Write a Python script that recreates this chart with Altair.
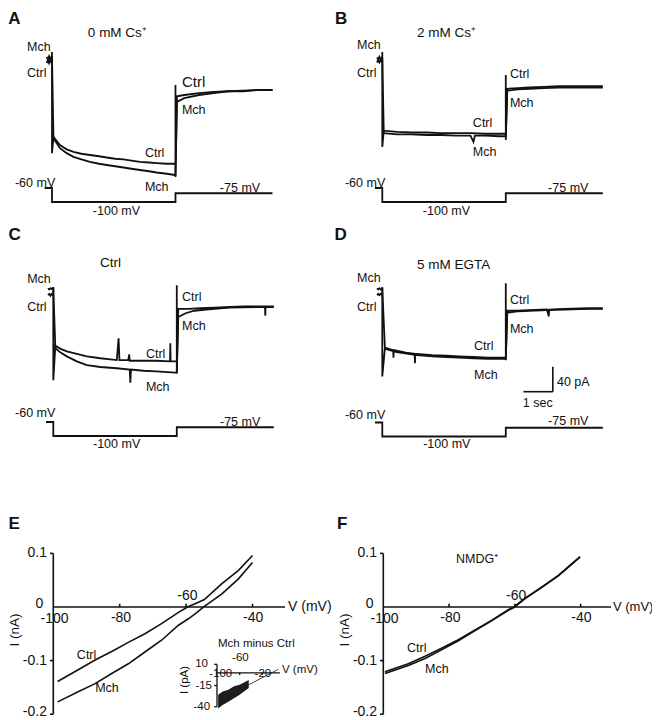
import altair as alt
import pandas as pd

FONT = "Liberation Sans"
INK = "#111111"
M = 8              # page margin
PX_PER_S = 29.4    # time calibration (1 sec bar)
PX_PER_PA = 0.625  # current calibration (40 pA bar)

# ---------------- voltage protocol (s, mV) ----------------
PROT_T = [-0.25, 0, 0, 4.2, 4.2, 7.5]
PROT_V = [-60, -60, -100, -100, -75, -75]

# ---------------- Panel A: 0 mM Cs+ (s, pA) ----------------
A_CTRL_T = [-0.18, -0.14, -0.10, -0.06, -0.02, 0, 0, 0, 0.05, 0.27, 0.5, 0.73, 1.0, 1.29, 1.6, 1.86, 2.15,
            2.43, 2.7, 2.99, 3.3, 3.56, 3.9, 4.18, 4.2, 4.2, 4.2, 4.25, 4.5, 5.0, 5.5, 6.0, 6.5, 7.0, 7.5]
A_CTRL_I = [-5, 0, -5, 0, -4, -3, 13, -149, -123, -136, -143, -147, -150, -152, -154, -156, -158,
            -159, -161, -163, -164, -165, -166, -166, -166, -40, -187, -58, -56, -53, -51, -50, -49, -48, -48]
A_MCH_T = [-0.18, -0.14, -0.10, -0.06, -0.02, 0, 0.05, 0.27, 0.5, 0.73, 1.0, 1.29, 1.6, 1.86, 2.15, 2.43,
           2.7, 2.99, 3.3, 3.56, 3.9, 4.18, 4.2, 4.25, 4.5, 5.0, 5.5, 6.0, 6.5, 7.0, 7.5]
A_MCH_I = [5, 1, 6, 1, 5, 3, -125, -141, -149, -155, -159, -163, -166, -168, -170, -172,
           -174, -176, -178, -180, -182, -184, -184, -67, -61, -56, -53, -50, -50, -48, -48]

# ---------------- Panel B: 2 mM Cs+ ----------------
B_CTRL_T = [-0.18, -0.14, -0.10, -0.06, -0.02, 0, 0, 0, 0.05, 0.5, 1.0, 1.5, 2.0, 2.5, 3.0, 3.5, 4.0, 4.18,
            4.2, 4.2, 4.2, 4.25, 4.6, 5.0, 5.5, 6.0, 6.5, 7.0, 7.5]
B_CTRL_I = [-4, 0, -4, 0, -3, -2, 13, -139, -113, -115, -116, -116, -117, -117, -117, -118, -118, -118,
            -118, -24, -128, -46, -45, -44, -43, -42, -42, -42, -42]
B_MCH_T = [-0.18, -0.14, -0.10, -0.06, -0.02, 0, 0.05, 0.5, 1.0, 1.5, 2.0, 2.5, 3.0, 3.1, 3.15, 3.5, 4.0,
           4.18, 4.2, 4.25, 4.6, 5.0, 5.5, 6.0, 6.5, 7.0, 7.5]
B_MCH_I = [4, 1, 5, 1, 4, 3, -117, -119, -119, -120, -120, -121, -121, -131, -121, -121, -122,
           -122, -122, -49, -47, -46, -45, -44, -44, -44, -44]

# ---------------- Panel C: Ctrl ----------------
C_CTRL_T = [-0.18, -0.14, -0.10, -0.06, -0.02, 0, 0, 0, 0.07, 0.25, 0.46, 0.8, 1.14, 1.6, 2.16, 2.22, 2.25,
            2.55, 2.58, 2.6, 3.07, 3.5, 3.97, 3.98, 3.99, 4.15, 4.2, 4.2, 4.2, 4.25, 4.6, 5.0, 5.5, 6.0,
            6.5, 7.0, 7.2, 7.21, 7.22, 7.5]
C_CTRL_I = [-5, -3, -6, -3, -5, -4, 8, -141, -86, -91, -95, -99, -103, -106, -109, -74, -109,
            -109, -100, -110, -110, -110, -111, -82, -111, -111, -111, 11, -130, -27, -27, -26, -25, -24,
            -23, -23, -23, -38, -23, -23]
C_MCH_T = [-0.18, -0.14, -0.10, -0.06, -0.02, 0, 0.07, 0.25, 0.46, 0.8, 1.14, 1.6, 2.16, 2.6, 2.62, 2.64,
           3.07, 3.5, 4.15, 4.2, 4.25, 4.5, 4.8, 5.2, 6.0, 7.0, 7.5]
C_MCH_I = [6, 4, 6, 5, 6, 6, -90, -97, -103, -111, -117, -120, -122, -124, -145, -124,
           -126, -127, -129, -129, -40, -34, -30, -28, -25, -24, -24]

# ---------------- Panel D: 5 mM EGTA ----------------
D_CTRL_T = [-0.18, -0.14, -0.10, -0.06, -0.02, 0, 0, 0, 0.09, 0.37, 0.38, 0.39, 0.49, 0.8, 1.1, 1.11, 1.12,
            1.17, 1.7, 2.19, 2.6, 3.1, 3.6, 4.17, 4.2, 4.2, 4.2, 4.25, 4.6, 5.0, 5.6, 5.66, 5.68, 6.2,
            7.0, 7.5]
D_CTRL_I = [-5, -3, -5, -3, -4, -4, 8, -135, -89, -93, -105, -93, -94, -97, -99, -114, -99,
            -99, -101, -102, -103, -104, -105, -105, -105, 14, -109, -30, -30, -29, -28, -39, -28, -27,
            -26, -26]
D_MCH_T = [-0.18, -0.14, -0.10, -0.06, -0.02, 0, 0.09, 0.49, 1.17, 1.7, 2.19, 2.6, 3.1, 3.6, 4.17, 4.2,
           4.25, 4.6, 5.0, 5.6, 6.2, 7.0, 7.5]
D_MCH_I = [6, 4, 6, 4, 5, 5, -91, -96, -101, -103, -104, -105, -106, -107, -107, -107,
           -33, -31, -30, -29, -28, -27, -27]

# ---------------- Panel E: I-V (mV, nA) ----------------
E_V = [-98.7, -92.5, -87.4, -82.4, -77.4, -72.4, -67.4, -62.3, -59.3, -57.3, -54.5, -49.3, -44.3, -40.0]
E_CTRL = [-0.139, -0.117, -0.099, -0.083, -0.066, -0.050, -0.031, -0.010, 0.001, 0.006, 0.014, 0.043,
          0.068, 0.096]
E_MCH = [-0.177, -0.158, -0.143, -0.124, -0.106, -0.084, -0.062, -0.034, -0.022, -0.013, 0.001, 0.024,
         0.052, 0.083]

# inset: Mch minus Ctrl (mV, pA)
INS_V = [-98, -90, -80, -70, -60, -50, -44]
INS_HI = [-26, -22, -20, -16, -14, -10.5, -8.5]
INS_LO = [-42, -38, -34, -30, -26, -21, -18]
INS_FIT_V = [-44.8, 8]
INS_FIT_I = [-14.4, 4.1]

# ---------------- Panel F: NMDG+ ----------------
F_V = [-99.5, -92.4, -87.3, -82.3, -77.2, -72.1, -67.1, -62.0, -60.3, -57.0, -51.9, -46.8, -40.2]
F_CTRL = [-0.121, -0.106, -0.092, -0.077, -0.061, -0.043, -0.025, -0.005, 0.0, 0.016, 0.037, 0.059, 0.094]
F_MCH = [-0.124, -0.109, -0.096, -0.080, -0.063, -0.044, -0.026, -0.006, -0.001, 0.015, 0.036, 0.058, 0.093]

E_TICKS_V = [-80, -60, -40]
E_TICKS_I = [0.1, -0.1, -0.2]
INS_TICKS_V = [-60, -20]
INS_TICKS_I = [10, -15, -40]

# ---------------- layout (page pixels) ----------------
PANELS = {
    "A": dict(x0=52.0, y0=60.0, yp=188.0),
    "B": dict(x0=382.3, y0=60.0, yp=188.0),
    "C": dict(x0=53.3, y0=292.0, yp=422.0),
    "D": dict(x0=382.3, y0=292.0, yp=422.5),
}


def t_scale(x0):
    return alt.Scale(domain=[0, 7.5], range=[x0 - M, x0 + 7.5 * PX_PER_S - M], nice=False, zero=False)


def i_scale(y0):
    return alt.Scale(domain=[-200, 0], range=[y0 + 200 * PX_PER_PA - M, y0 - M], nice=False, zero=False)


def v_scale(yp):
    return alt.Scale(domain=[-100, -60], range=[yp + 14 - M, yp - M], nice=False, zero=False)


def lin(d0, d1, p0, p1):
    return alt.Scale(domain=[d0, d1], range=[p0 - M, p1 - M], nice=False, zero=False)


def line(xv, yv, xs, ys, w=1.4, color=INK):
    df = pd.DataFrame({"x": xv, "y": yv, "o": list(range(len(xv)))})
    return alt.Chart(df).mark_line(color=color, strokeWidth=w).encode(
        x=alt.X("x:Q", scale=xs, axis=None),
        y=alt.Y("y:Q", scale=ys, axis=None),
        order="o:Q",
    )


def segs(rows, xs, ys, w=1.5):
    df = pd.DataFrame(rows, columns=["x", "y", "x2", "y2"])
    return alt.Chart(df).mark_rule(color=INK, strokeWidth=w).encode(
        x=alt.X("x:Q", scale=xs, axis=None),
        y=alt.Y("y:Q", scale=ys, axis=None),
        x2="x2:Q",
        y2="y2:Q",
    )


def texts(rows, xs, ys, size=12, align="left", angle=0, weight="normal"):
    df = pd.DataFrame(rows, columns=["x", "y", "t"])
    return alt.Chart(df).mark_text(
        align=align, baseline="middle", font=FONT, fontSize=size, angle=angle,
        fontWeight=weight, color=INK,
    ).encode(
        x=alt.X("x:Q", scale=xs, axis=None),
        y=alt.Y("y:Q", scale=ys, axis=None),
        text="t:N",
    )


layers = []

# ---------------- trace panels ----------------
TRACES = {
    "A": [(A_CTRL_T, A_CTRL_I), (A_MCH_T, A_MCH_I)],
    "B": [(B_CTRL_T, B_CTRL_I), (B_MCH_T, B_MCH_I)],
    "C": [(C_CTRL_T, C_CTRL_I), (C_MCH_T, C_MCH_I)],
    "D": [(D_CTRL_T, D_CTRL_I), (D_MCH_T, D_MCH_I)],
}

NOTES = {
    "A": dict(
        letter=[(-1.49, 65, "A")],
        title=[(1.22, 43, "0 mM Cs⁺")],
        small=[(-0.85, 21, "Mch"), (-0.85, -21, "Ctrl"), (4.42, -80, "Mch"),
               (3.16, -149, "Ctrl"), (3.16, -203, "Mch")],
        big=[(4.42, -35, "Ctrl")],
        prot=[(-1.26, -45.7, "-60 mV"), (1.39, -125.7, "-100 mV"), (5.71, -60, "-75 mV")],
    ),
    "B": dict(
        letter=[(-1.61, 65, "B")],
        title=[(1.18, 43, "2 mM Cs⁺")],
        small=[(-0.86, 24, "Mch"), (-0.86, -21, "Ctrl"), (4.34, -22, "Ctrl"), (4.34, -69, "Mch"),
               (3.08, -101, "Ctrl"), (3.08, -147, "Mch")],
        big=[],
        prot=[(-1.27, -45.7, "-60 mV"), (1.38, -125.7, "-100 mV"), (5.64, -60, "-75 mV")],
    ),
    "C": dict(
        letter=[(-1.52, 91, "C")],
        title=[(1.59, 46, "Ctrl")],
        small=[(-0.89, 21, "Mch"), (-0.89, -24, "Ctrl"), (4.38, -8, "Ctrl"), (4.38, -54, "Mch"),
               (3.15, -99, "Ctrl"), (3.15, -152, "Mch")],
        big=[],
        prot=[(-1.30, -34.3, "-60 mV"), (1.35, -122.9, "-100 mV"), (5.67, -60, "-75 mV")],
    ),
    "D": dict(
        letter=[(-1.63, 91, "D")],
        title=[(1.18, 43, "5 mM EGTA")],
        small=[(-0.86, 22, "Mch"), (-0.86, -24, "Ctrl"), (4.34, -13, "Ctrl"), (4.34, -59, "Mch"),
               (3.12, -86, "Ctrl"), (3.12, -133, "Mch"), (5.94, -144, "40 pA"), (4.78, -178, "1 sec")],
        big=[],
        prot=[(-1.27, -38.6, "-60 mV"), (1.39, -121.4, "-100 mV"), (5.64, -55.7, "-75 mV")],
    ),
}

SCALE_BAR = [(4.80, -159.5, 5.80, -159.5), (5.80, -159.5, 5.80, -119.5)]

for key, geo in PANELS.items():
    xs = t_scale(geo["x0"])
    ys = i_scale(geo["y0"])
    vs = v_scale(geo["yp"])
    for tv, iv in TRACES[key]:
        layers.append(line(tv, iv, xs, ys, w=1.8))
    layers.append(line(PROT_T, PROT_V, xs, vs, w=1.8))
    n = NOTES[key]
    layers.append(texts(n["letter"], xs, ys, size=17, weight="bold"))
    layers.append(texts(n["title"], xs, ys, size=13.5))
    layers.append(texts(n["small"], xs, ys, size=12.5))
    if n["big"]:
        layers.append(texts(n["big"], xs, ys, size=15))
    layers.append(texts(n["prot"], xs, vs, size=12.5))
    if key == "D":
        layers.append(segs(SCALE_BAR, xs, ys, w=1.6))

# ---------------- I-V panels ----------------
IV = {
    "E": dict(x100=53.3, ppm=3.32, xend=-30.2, vlab=-29.3, vsize=14, letter=-113.5,
              curves=[(E_V, E_CTRL), (E_V, E_MCH)],
              labels=[(-92.9, -0.0896, "Ctrl"), (-87.4, -0.151, "Mch")]),
    "F": dict(x100=383.3, ppm=3.29, xend=-30.8, vlab=-30.2, vsize=13, letter=-114.1,
              curves=[(F_V, F_CTRL), (F_V, F_MCH)],
              labels=[(-92.8, -0.0765, "Ctrl"), (-87.3, -0.116, "Mch"), (-77.9, 0.0896, "NMDG⁺")]),
}
Y0_IV = 607.0
PX_PER_NA = 536.0

for key, g in IV.items():
    xs = lin(-100, -40, g["x100"], g["x100"] + 60 * g["ppm"])
    ys = lin(-0.2, 0.1, Y0_IV + 0.2 * PX_PER_NA, Y0_IV - 0.1 * PX_PER_NA)
    ax = [(-100, 0.1, -100, -0.2), (-100, 0, g["xend"], 0)]
    ax += [(-101, v, -100, v) for v in E_TICKS_I]
    ax += [(v, 0, v, 0.006) for v in E_TICKS_V]
    layers.append(segs(ax, xs, ys, w=1.6))
    for vv, ii in g["curves"]:
        layers.append(line(vv, ii, xs, ys, w=1.6))
    layers.append(texts([(-101.9, 0.1, "0.1"), (-103.0, 0.005, "0"), (-101.9, -0.1, "-0.1"),
                         (-101.9, -0.196, "-0.2")], xs, ys, size=14, align="right"))
    layers.append(texts([(-99.6, -0.023, "-100"), (-79.6, -0.020, "-80"), (-39.8, -0.020, "-40"),
                         (-59.6, 0.021, "-60")], xs, ys, size=14, align="center"))
    layers.append(texts([(g["vlab"], 0, "V (mV)")], xs, ys, size=g["vsize"]))
    layers.append(texts([(-111.5, -0.043, "I (nA)")], xs, ys, size=13.5, align="center", angle=270))
    layers.append(texts([(g["letter"], 0.155, key)], xs, ys, size=17, weight="bold"))
    layers.append(texts(g["labels"], xs, ys, size=12.5))

# inset in E
ixs = lin(-100, -20, 217.0, 217.0 + 80 * 0.567)
iys = lin(-40, 10, 672.8 + 40 * 0.848, 672.8 - 10 * 0.848)
ins_ax = [(-100, 10, -100, -40), (-100, 0, 11, 0)]
ins_ax += [(-105, v, -100, v) for v in INS_TICKS_I]
ins_ax += [(v, 0, v, -2.5) for v in INS_TICKS_V]
layers.append(segs(ins_ax, ixs, iys, w=1.3))
ins_df = pd.DataFrame({"v": INS_V, "lo": INS_LO, "hi": INS_HI})
layers.append(alt.Chart(ins_df).mark_area(color=INK, opacity=0.95).encode(
    x=alt.X("v:Q", scale=ixs, axis=None),
    y=alt.Y("lo:Q", scale=iys, axis=None),
    y2="hi:Q",
))
layers.append(line(INS_FIT_V, INS_FIT_I, ixs, iys, w=0.8))
layers.append(texts([(-98.2, 34, "Mch minus Ctrl")], ixs, iys, size=11.5))
layers.append(texts([(-115.9, 10, "10"), (-108.8, -15, "-15"), (-112.3, -40, "-40")], ixs, iys,
                    size=11.5, align="right"))
layers.append(texts([(-58.7, 17.5, "-60"), (-93.5, -1.5, "-100"), (-19, -1.5, "-20")], ixs, iys,
                    size=11.5, align="center"))
layers.append(texts([(14.6, 3, "V (mV)")], ixs, iys, size=11.5))
layers.append(texts([(-156.4, -8.5, "I (pA)")], ixs, iys, size=11.5, align="center", angle=270))

chart = alt.layer(*layers).resolve_scale(x="independent", y="independent").properties(
    width=644, height=712, autosize=alt.AutoSizeParams(type="none"), padding=0,
    background="white",
).configure_view(stroke=None)

chart.save("out.html", embed_options={"renderer": "svg", "actions": False})
